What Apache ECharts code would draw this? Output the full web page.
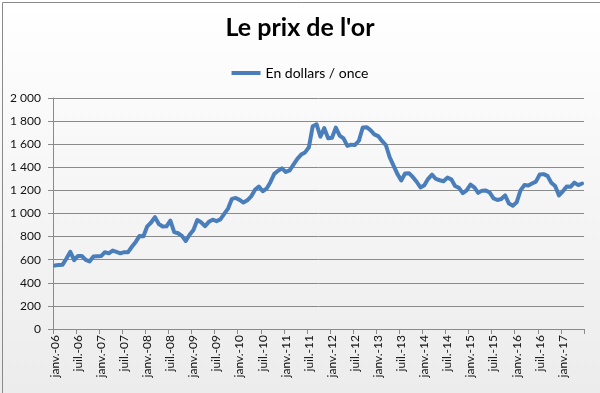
<!DOCTYPE html>
<html>
<head>
<meta charset="utf-8">
<script src="https://cdn.jsdelivr.net/npm/echarts@6/dist/echarts.min.js"></script>
<style>
html,body{margin:0;padding:0;background:#fff;}
#chart{width:600px;height:393px;}
</style>
</head>
<body>
<div id="chart"></div>
<script>
// Monthly gold price, USD per ounce
const years = [2006,2007,2008,2009,2010,2011,2012,2013,2014,2015,2016,2017];
const monthNames = ['janv.','févr.','mars','avr.','mai','juin','juil.','août','sept.','oct.','nov.','déc.'];
const p2006 = [549,555,557,610,669,596,633,632,599,585,627,629];
const p2007 = [631,665,655,679,667,655,665,665,712,754,806,803];
const p2008 = [889,922,968,909,888,889,939,839,829,806,762,816];
const p2009 = [858,943,924,890,928,946,934,949,996,1043,1127,1135];
const p2010 = [1118,1095,1114,1148,1205,1233,1193,1215,1271,1343,1370,1391];
const p2011 = [1360,1374,1424,1473,1510,1529,1573,1756,1772,1666,1739,1652];
const p2012 = [1656,1743,1674,1650,1585,1596,1594,1630,1745,1747,1722,1685];
const p2013 = [1670,1628,1593,1487,1414,1343,1286,1347,1349,1316,1275,1225];
const p2014 = [1244,1300,1336,1299,1288,1279,1311,1296,1238,1222,1176,1200];
const p2015 = [1251,1227,1179,1198,1199,1181,1131,1117,1125,1157,1086,1068];
const p2016 = [1097,1200,1246,1242,1260,1276,1337,1341,1326,1267,1238,1157];
const p2017 = [1192,1234,1231,1267,1246,1260];
const seriesName = 'En dollars / once';
const chartTitle = "Le prix de l'or";

const prices = [].concat(p2006,p2007,p2008,p2009,p2010,p2011,p2012,p2013,p2014,p2015,p2016,p2017);
const categories = [];
for (let i = 0; i < prices.length; i++) {
  const y = years[Math.floor(i / 12)];
  categories.push(monthNames[i % 12] + '-' + String(y % 100).padStart(2, '0'));
}

const chart = echarts.init(document.getElementById('chart'), null, {renderer: 'canvas'});
const font = 'Lato, "Open Sans", sans-serif';
chart.setOption({
  animation: false,
  backgroundColor: {
    type: 'linear', x: 0, y: 0, x2: 0, y2: 1,
    colorStops: [{offset: 0, color: '#ffffff'}, {offset: 1, color: '#ececec'}]
  },
  graphic: [{
    type: 'rect', left: 0, top: 0,
    shape: {x: 0.5, y: 0.5, width: 599, height: 392},
    style: {fill: 'none', stroke: '#8a8a8a', lineWidth: 1},
    silent: true
  }],
  title: {
    text: chartTitle,
    left: 'center', top: 10,
    textStyle: {fontFamily: font, fontWeight: 'bold', fontSize: 25, color: '#000'}
  },
  legend: {
    top: 61, left: 'center',
    icon: 'rect', itemWidth: 29, itemHeight: 4,
    textStyle: {fontFamily: font, fontSize: 14, color: '#000'},
    data: [seriesName]
  },
  grid: {left: 53, right: 16, top: 98, bottom: 64, containLabel: false},
  xAxis: {
    type: 'category',
    data: categories,
    boundaryGap: true,
    axisLine: {lineStyle: {color: '#8a8a8a', width: 1}},
    axisTick: {show: true, interval: 5, length: 5, lineStyle: {color: '#8a8a8a'}},
    axisLabel: {interval: 5, rotate: 90, margin: 6, fontFamily: font, fontSize: 12, color: '#111'},
    splitLine: {show: false}
  },
  yAxis: {
    type: 'value',
    min: 0, max: 2000, interval: 200,
    axisLine: {show: true, lineStyle: {color: '#8a8a8a', width: 1}},
    axisTick: {show: true, length: 5, lineStyle: {color: '#8a8a8a'}},
    axisLabel: {
      margin: 12, fontFamily: font, fontSize: 12, color: '#111',
      formatter: function (v) {
        return v >= 1000 ? Math.floor(v / 1000) + ' ' + String(v % 1000).padStart(3, '0') : String(v);
      }
    },
    splitLine: {show: true, lineStyle: {color: '#8a8a8a', width: 1}}
  },
  series: [{
    name: seriesName,
    type: 'line',
    data: prices,
    showSymbol: false,
    symbol: 'none',
    lineStyle: {color: '#4a7ebb', width: 4, cap: 'round', join: 'round'},
    itemStyle: {color: '#4a7ebb'}
  }]
});
</script>
</body>
</html>
